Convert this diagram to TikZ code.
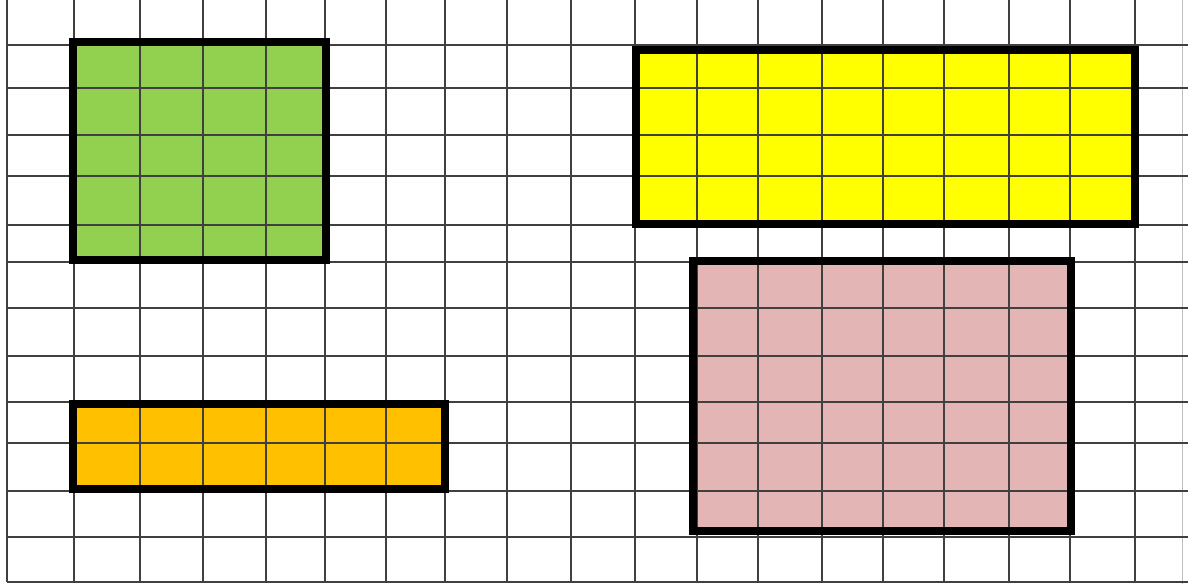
\documentclass[tikz,border=0pt]{standalone}
\begin{document}
\begin{tikzpicture}[x=1pt,y=-1pt,
  gridline/.style={draw=black!75,line width=1.3pt},
  faintline/.style={draw=black!25,line width=1pt},
  boxborder/.style={draw=black,line width=8pt,line join=miter}]
\useasboundingbox[fill=white] (0,0) rectangle (1188,584);
% fills
\fill[fill={rgb,255:red,146;green,208;blue,80}] (73,42) rectangle (326,260);
\fill[fill={rgb,255:red,255;green,255;blue,0}] (636,50) rectangle (1135,224);
\fill[fill={rgb,255:red,227;green,181;blue,181}] (693,261) rectangle (1071,531);
\fill[fill={rgb,255:red,255;green,192;blue,0}] (73,404) rectangle (445,489);
% grid
\foreach \x in {7,74,140,203,266,325,386,445,507,571,635,697,758,822,883,944,1009,1070,1135}
  \draw[gridline] (\x,0) -- (\x,582);
\draw[faintline] (1182,0) -- (1182,584);
\foreach \y in {45,88,135,176,225,262,308,356,402,443,491,537,582}
  \draw[gridline] (7,\y) -- (1188,\y);
% borders
\draw[boxborder] (73,42) rectangle (326,260);
\draw[boxborder] (636,50) rectangle (1135,224);
\draw[boxborder] (693,261) rectangle (1071,531);
\draw[boxborder] (73,404) rectangle (445,489);
\end{tikzpicture}
\end{document}
